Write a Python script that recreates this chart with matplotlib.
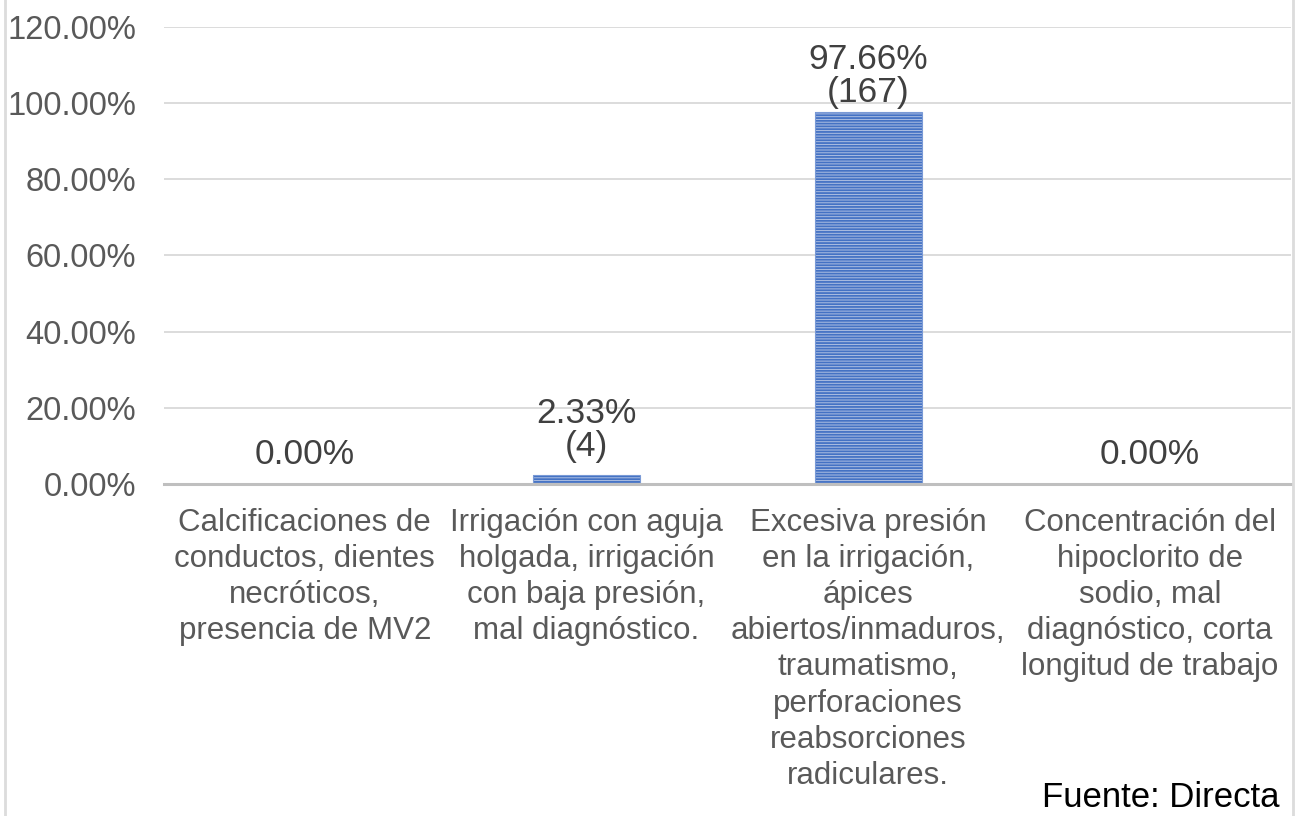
import numpy as np
import matplotlib.pyplot as plt
from matplotlib.lines import Line2D

categories = [
    "Calcificaciones de\nconductos, dientes\nnecróticos,\npresencia de MV2",
    "Irrigación con aguja\nholgada, irrigación\ncon baja presión,\nmal diagnóstico.",
    "Excesiva presión\nen la irrigación,\nápices\nabiertos/inmaduros,\ntraumatismo,\nperforaciones\nreabsorciones\nradiculares.",
    "Concentración del\nhipoclorito de\nsodio, mal\ndiagnóstico, corta\nlongitud de trabajo",
]
percent = [0.0, 2.33, 97.66, 0.0]
counts = [0, 4, 167, 0]

plt.rcParams['font.family'] = ['Liberation Sans', 'DejaVu Sans']
plt.rcParams['hatch.linewidth'] = 1.3

fig = plt.figure(figsize=(12.96, 8.16), dpi=100)
ax = fig.add_axes([0.1265, 0.4069, 0.8695, 0.5600])

x = np.arange(len(categories))
ax.bar(x, percent, width=0.38, color='#aebfe2', edgecolor='#4472C4',
       hatch='------', linewidth=0, zorder=3)
ax.bar(x, percent, width=0.38, color='none', edgecolor='#7a9ad6',
       linewidth=0.8, zorder=4)

for xi, p, c in zip(x, percent, counts):
    if c > 0:
        txt = f"{p:.2f}%\n({c})"
    else:
        txt = f"{p:.2f}%"
    off = 2 if p > 10 else 9
    ax.annotate(txt, (xi, p), xytext=(0, off), textcoords='offset points',
                ha='center', va='bottom', fontsize=25.5, color='#404040',
                linespacing=1.0)

ax.set_xlim(-0.5, 3.5)
ax.set_ylim(0, 120)
ax.set_yticks(np.arange(0, 121, 20))
ax.set_yticklabels([f"{v:.2f}%" for v in np.arange(0, 121, 20)])
ax.set_xticks(x)
ax.set_xticklabels(categories, linespacing=1.27)
ax.tick_params(axis='y', length=0, labelsize=23.5, labelcolor='#595959', pad=20)
ax.tick_params(axis='x', length=0, labelsize=22.5, labelcolor='#595959', pad=17)
for lbl in ax.get_xticklabels():
    lbl.set_verticalalignment('top')
    lbl.set_horizontalalignment('center')

ax.grid(axis='y', color='#d9d9d9', linewidth=1.3, zorder=0)
ax.set_axisbelow(True)
for s in ['top', 'right', 'left']:
    ax.spines[s].set_visible(False)
ax.spines['bottom'].set_color('#bfbfbf')
ax.spines['bottom'].set_linewidth(2.2)
ax.spines['bottom'].set_zorder(5)

fig.text(0.987, 0.002, "Fuente: Directa", ha='right', va='bottom',
         fontsize=25, color='black')

fig.add_artist(Line2D([0.0035, 0.0035], [0, 1], color='#dcdcdc', linewidth=2,
                      transform=fig.transFigure))
fig.add_artist(Line2D([0.998, 0.998], [0, 1], color='#dcdcdc', linewidth=2,
                      transform=fig.transFigure))

fig.savefig("out.png", dpi=100)
